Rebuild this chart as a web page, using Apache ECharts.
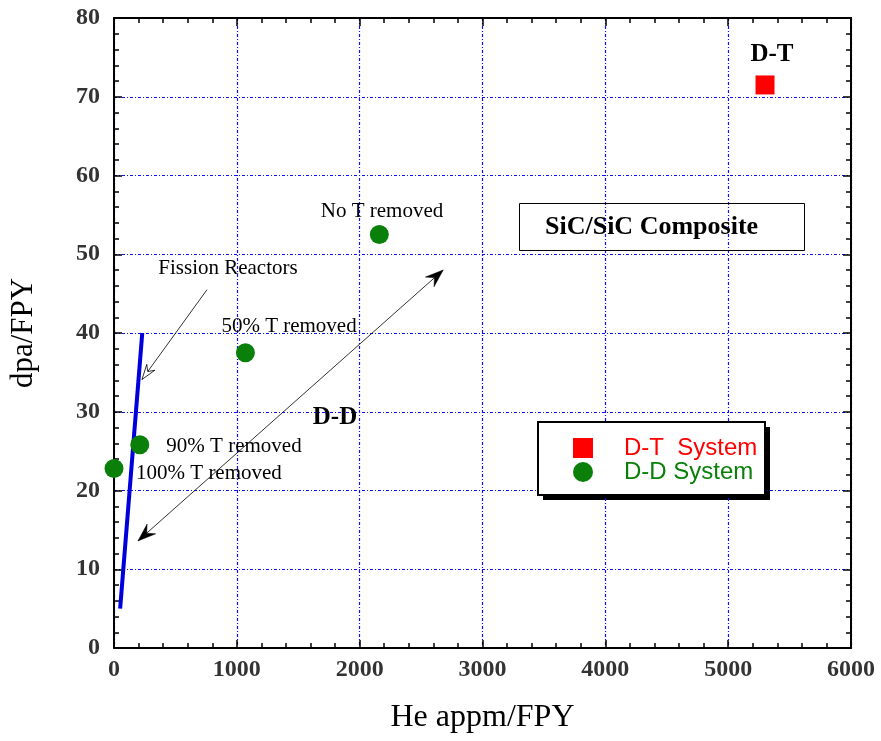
<!DOCTYPE html>
<html><head><meta charset="utf-8">
<script src="https://cdn.jsdelivr.net/npm/echarts@6/dist/echarts.min.js"></script>
<style>html,body{margin:0;padding:0;background:#fff}#c{width:881px;height:741px}</style>
</head><body><div id="c"></div>
<script>
// ---- data ----
const xTicks = [0, 1000, 2000, 3000, 4000, 5000, 6000];
const yTicks = [0, 10, 20, 30, 40, 50, 60, 70, 80];
const dtSystem = [[5300, 71.5]];
const ddSystem = [[2160, 52.5], [1070, 37.5], [210, 25.8], [0, 22.8]];
const fissionLine = [[50, 5], [230, 40]];
// arrows: [x1, y1, x2, y2]
const arrowDD = [195, 13.6, 2680, 48.0];
const arrowFission = [757, 45.5, 228, 34.1];
// annotation labels: [x, y, text]
const plainLabels = [
  [928, 48.2, 'Fission Reactors'],
  [2182, 55.4, 'No T removed'],
  [1425, 40.8, '50% T removed'],
  [977, 25.6, '90% T removed'],
  [773, 22.1, '100% T removed']
];
const boldLabels = [
  [1799, 29.3, 'D-D'],
  [5357, 75.3, 'D-T']
];

const serif = '"Liberation Serif", "Times New Roman", serif';
const gridColor = '#1010f0';

function arrowItem(params, api) {
  const p1 = api.coord([api.value(0), api.value(1)]);
  const p2 = api.coord([api.value(2), api.value(3)]);
  const kind = api.value(4);
  const children = [{
    type: 'line', shape: {x1: p1[0], y1: p1[1], x2: p2[0], y2: p2[1]},
    style: {stroke: '#000', lineWidth: 0.8}
  }];
  function head(tip, from, L, W, filled) {
    const dx = tip[0] - from[0], dy = tip[1] - from[1];
    const len = Math.sqrt(dx * dx + dy * dy);
    const ux = dx / len, uy = dy / len, nx = -uy, ny = ux;
    const bx = tip[0] - L * ux, by = tip[1] - L * uy;
    const pts = [tip, [bx + nx * W / 2, by + ny * W / 2],
      [tip[0] - L * 0.65 * ux, tip[1] - L * 0.65 * uy],
      [bx - nx * W / 2, by - ny * W / 2]];
    return {type: 'polygon', shape: {points: pts},
      style: {fill: filled ? '#000' : '#fff', stroke: '#000', lineWidth: filled ? 0.5 : 0.8}};
  }
  if (kind === 1) {
    children.push(head(p2, p1, 18, 13, true));
    children.push(head(p1, p2, 18, 13, true));
  } else {
    children.push(head(p2, p1, 15, 10, false));
  }
  return {type: 'group', children: children};
}

const chart = echarts.init(document.getElementById('c'));
const axisCommon = {
  min: 0, axisLine: {show: true, onZero: false, lineStyle: {color: '#000', width: 2}},
  axisTick: {show: true, inside: true, length: 8, lineStyle: {color: '#000', width: 1.5}},
  minorTick: {show: true, splitNumber: 5, length: 5, lineStyle: {color: '#000', width: 1.5}},
};
chart.setOption({
  animation: false,
  backgroundColor: '#fff',
  grid: {left: 113, right: 30, top: 18, bottom: 93},
  graphic: [
    {type: 'rect', z: 0, shape: {x: 543, y: 427, width: 227, height: 73}, style: {fill: '#000'}},
    {type: 'rect', z: 1, shape: {x: 538, y: 422, width: 227, height: 73},
      style: {fill: '#fff', stroke: '#000', lineWidth: 2}}
  ],
  title: {
    text: 'SiC/SiC Composite', left: 519, top: 203,
    padding: [11, 47, 11, 26], borderColor: '#000', borderWidth: 1,
    textStyle: {fontFamily: serif, fontWeight: 'bold', fontSize: 26, color: '#000'}
  },
  legend: {
    orient: 'vertical', left: 573, top: 436, z: 10,
    padding: 0, itemGap: 0, itemWidth: 20, itemHeight: 20,
    textStyle: {fontFamily: '"Liberation Sans", Arial, sans-serif', fontSize: 24, padding: [0, 0, 0, 26]},
    data: [
      {name: 'D-T  System', textStyle: {color: '#ff0000'}},
      {name: 'D-D System', textStyle: {color: '#0a800a'}}
    ]
  },
  xAxis: [
    Object.assign({}, axisCommon, {
      type: 'value', max: 6000, interval: 1000, position: 'bottom',
      name: 'He appm/FPY', nameLocation: 'middle', nameGap: 54,
      nameTextStyle: {fontFamily: serif, fontSize: 32, color: '#000'},
      axisLabel: {margin: 10, fontFamily: serif, fontWeight: 'bold', fontSize: 24, color: '#333',
        formatter: v => xTicks.includes(v) ? String(v) : ''},
      splitLine: {show: true, lineStyle: {color: gridColor, width: 1.2, type: [3, 2, 1, 2]}}
    }),
    Object.assign({}, axisCommon, {
      type: 'value', max: 6000, interval: 1000, position: 'top',
      axisLabel: {show: false}, splitLine: {show: false}
    })
  ],
  yAxis: [
    Object.assign({}, axisCommon, {
      type: 'value', max: 80, interval: 10, position: 'left',
      name: 'dpa/FPY', nameLocation: 'middle', nameGap: 75, nameRotate: 90,
      nameTextStyle: {fontFamily: serif, fontSize: 31, color: '#000'},
      axisLabel: {margin: 14, fontFamily: serif, fontWeight: 'bold', fontSize: 24, color: '#333',
        formatter: v => yTicks.includes(v) ? String(v) : ''},
      splitLine: {show: true, lineStyle: {color: gridColor, width: 1.2, type: [3, 2, 1, 2]}}
    }),
    Object.assign({}, axisCommon, {
      type: 'value', max: 80, interval: 10, position: 'right',
      axisLabel: {show: false}, splitLine: {show: false}
    })
  ],
  series: [
    {
      name: 'Fission', type: 'line', data: fissionLine, symbol: 'none',
      lineStyle: {color: '#0000dd', width: 4}, z: 3
    },
    {
      type: 'custom', renderItem: arrowItem, z: 4,
      encode: {x: [0, 2], y: [1, 3]},
      data: [arrowDD.concat([1]), arrowFission.concat([2])]
    },
    {
      name: 'D-T  System', type: 'scatter', symbol: 'rect', symbolSize: 19,
      itemStyle: {color: '#ff0000', opacity: 1}, data: dtSystem, z: 5
    },
    {
      name: 'D-D System', type: 'scatter', symbol: 'circle', symbolSize: 19,
      itemStyle: {color: '#0a800a', opacity: 1}, data: ddSystem, z: 5
    },
    {
      type: 'scatter', symbolSize: 0, z: 6, silent: true, itemStyle: {opacity: 1},
      data: plainLabels.map(d => ({value: [d[0], d[1]], name: d[2]})),
      label: {show: true, position: 'inside', formatter: p => p.name,
        fontFamily: serif, fontSize: 21, color: '#000', opacity: 1}
    },
    {
      type: 'scatter', symbolSize: 0, z: 6, silent: true, itemStyle: {opacity: 1},
      data: boldLabels.map(d => ({value: [d[0], d[1]], name: d[2]})),
      label: {show: true, position: 'inside', formatter: p => p.name,
        fontFamily: serif, fontWeight: 'bold', fontSize: 25, color: '#000', opacity: 1}
    }
  ]
});
</script></body></html>
